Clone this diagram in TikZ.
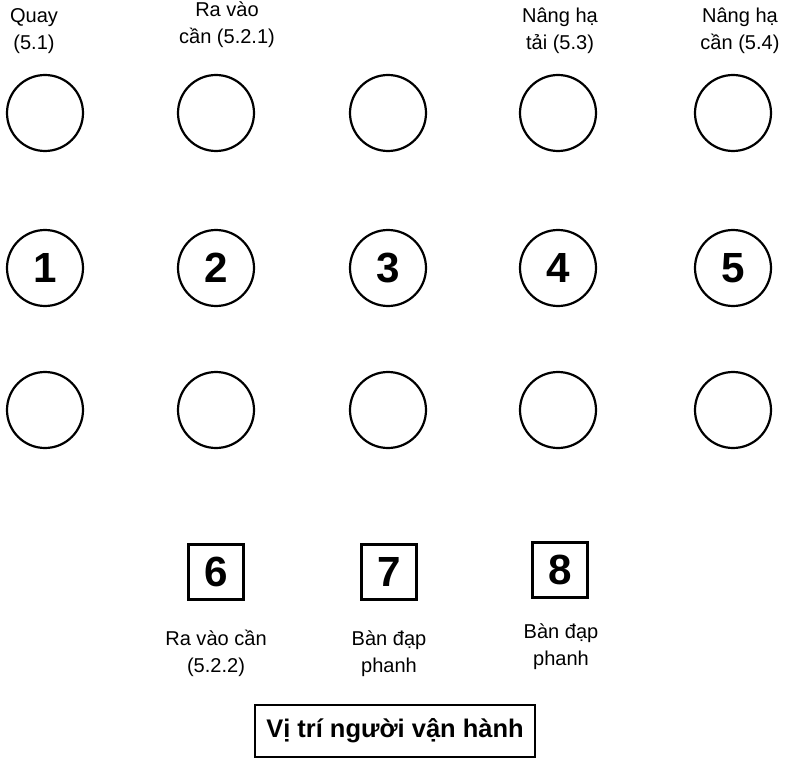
\documentclass[tikz,border=0pt]{standalone}
\usepackage{fontspec}
\setmainfont{Liberation Sans}
\begin{document}
\begin{tikzpicture}[
  knob/.style={draw,circle,line width=1.25pt,minimum size=1.52cm,inner sep=0pt,font=\fontsize{24}{24}\selectfont\bfseries},
  pedal/.style={draw,line width=1.25pt,minimum size=1.1cm,inner sep=0pt,font=\fontsize{24}{24}\selectfont\bfseries},
  lbl/.style={align=center,font=\fontsize{11.4}{15.4}\selectfont}]
\useasboundingbox (0,0) rectangle (15.7,15.2);
% top row
\node[knob] (k1a) at (0.9,12.94) {};
\node[knob] (k2a) at (4.32,12.94) {};
\node[knob] (k3a) at (7.76,12.94) {};
\node[knob] (k4a) at (11.16,12.94) {};
\node[knob] (k5a) at (14.66,12.94) {};
% middle row
\node[knob] (k1) at (0.9,9.84) {1};
\node[knob] (k2) at (4.32,9.84) {2};
\node[knob] (k3) at (7.76,9.84) {3};
\node[knob] (k4) at (11.16,9.84) {4};
\node[knob] (k5) at (14.66,9.84) {5};
% bottom row
\node[knob] (k1b) at (0.9,7.0) {};
\node[knob] (k2b) at (4.32,7.0) {};
\node[knob] (k3b) at (7.76,7.0) {};
\node[knob] (k4b) at (11.16,7.0) {};
\node[knob] (k5b) at (14.66,7.0) {};
% labels
\node[lbl] (l1) at (0.68,14.58) {Quay\\(5.1)};
\node[lbl] (l2) at (4.54,14.7) {Ra vào\\cần (5.2.1)};
\node[lbl] (l4) at (11.2,14.58) {Nâng hạ\\tải (5.3)};
\node[lbl] (l5) at (14.8,14.58) {Nâng hạ\\cần (5.4)};
% pedals
\node[pedal] (p6) at (4.32,3.76) {6};
\node[pedal] (p7) at (7.78,3.76) {7};
\node[pedal] (p8) at (11.2,3.8) {8};
\node[lbl] (l6) at (4.32,2.14) {Ra vào cần\\(5.2.2)};
\node[lbl] (l7) at (7.78,2.12) {Bàn đạp\\phanh};
\node[lbl] (l8) at (11.22,2.26) {Bàn đạp\\phanh};
\node[draw,line width=1.25pt,minimum width=5.6cm,minimum height=1.04cm,font=\fontsize{14.5}{14.5}\selectfont\bfseries] (op) at (7.9,0.58) {Vị trí người vận hành};
\end{tikzpicture}
\end{document}
